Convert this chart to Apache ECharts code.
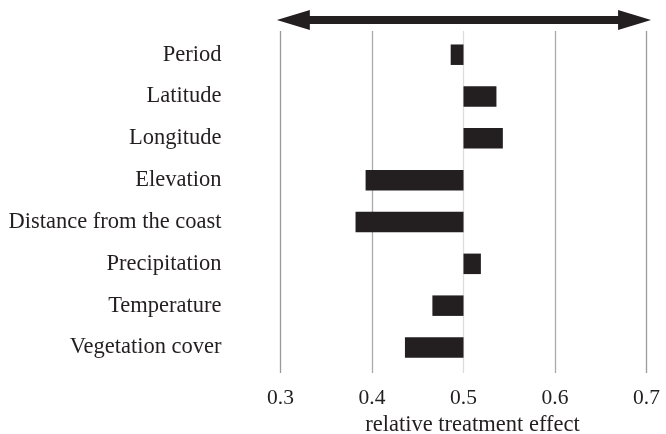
<!DOCTYPE html>
<html>
<head>
<meta charset="utf-8">
<script src="https://cdn.jsdelivr.net/npm/echarts@6/dist/echarts.min.js"></script>
<style>html,body{margin:0;padding:0;background:#fff;}#c{width:666px;height:434px;}</style>
</head>
<body>
<div id="c"></div>
<script>
var categories = ['Period','Latitude','Longitude','Elevation','Distance from the coast','Precipitation','Temperature','Vegetation cover'];
var effects = [0.486, 0.536, 0.543, 0.393, 0.382, 0.519, 0.466, 0.436];
var baseline = 0.5;
var xTicks = [0.3, 0.4, 0.5, 0.6, 0.7];
var arrowRange = [0.296, 0.705];
var arrowLevel = 1.032;

var FONT = 'Liberation Serif';
var INK = '#231f20';
var chart = echarts.init(document.getElementById('c'));
chart.setOption({
  animation: false,
  backgroundColor: '#fff',
  grid: [
    {left: 280.5, right: 19.5, top: 31, bottom: 61, outerBoundsMode: 'none', containLabel: false},
    {left: 280.5, right: 19.5, top: 33.8, bottom: 65.6, outerBoundsMode: 'none', containLabel: false}
  ],
  xAxis: [
    {gridIndex: 0, type: 'value', min: xTicks[0], max: xTicks[xTicks.length-1], interval: 0.1,
     axisLine: {show: false}, axisTick: {show: false},
     splitLine: {show: true, lineStyle: {color: ['#9a9a9a','#aaaaaa','#dddddd','#aaaaaa','#9a9a9a'], width: 1.3}},
     axisLabel: {margin: 14, fontFamily: FONT, fontSize: 21.5, color: INK, formatter: function(v){return v.toFixed(1);}},
     name: 'relative treatment effect', nameLocation: 'middle', nameGap: 40,
     nameTextStyle: {fontFamily: FONT, fontSize: 22.5, color: INK, padding: [0, 0, 0, 18]}},
    {gridIndex: 1, type: 'value', min: xTicks[0], max: xTicks[xTicks.length-1], show: false}
  ],
  yAxis: [
    {gridIndex: 0, type: 'value', min: 0, max: 1, show: false},
    {gridIndex: 1, type: 'category', data: categories, inverse: true,
     axisLine: {show: false}, axisTick: {show: false}, splitLine: {show: false},
     axisLabel: {margin: 59, fontFamily: FONT, fontSize: 22.5, color: INK, align: 'right'}}
  ],
  series: [
    {
      type: 'custom', xAxisIndex: 0, yAxisIndex: 0, clip: false, silent: true,
      data: [[arrowRange[0], arrowRange[1], arrowLevel]],
      renderItem: function(params, api){
        var a = api.coord([api.value(0), api.value(2)]);
        var b = api.coord([api.value(1), api.value(2)]);
        var y = a[1], x0 = a[0], x1 = b[0], hl = 33, hw = 10, sw = 4;
        return {type: 'polygon', shape: {points: [
          [x0, y], [x0+hl, y-hw], [x0+hl, y-sw], [x1-hl, y-sw], [x1-hl, y-hw], [x1, y],
          [x1-hl, y+hw], [x1-hl, y+sw], [x0+hl, y+sw], [x0+hl, y+hw]
        ]}, style: {fill: INK}};
      }
    },
    {
      type: 'custom', xAxisIndex: 1, yAxisIndex: 1, silent: true,
      data: effects.map(function(v, i){ return [i, v]; }),
      encode: {x: 1, y: 0},
      renderItem: function(params, api){
        var idx = api.value(0), v = api.value(1);
        var p0 = api.coord([baseline, idx]);
        var p1 = api.coord([v, idx]);
        var band = api.size([0, 1])[1];
        var h = band * 0.49;
        var x = Math.min(p0[0], p1[0]);
        return {type: 'rect', shape: {x: x, y: p0[1] - h/2, width: Math.abs(p1[0]-p0[0]), height: h},
                style: {fill: INK}};
      }
    }
  ]
});
</script>
</body>
</html>
